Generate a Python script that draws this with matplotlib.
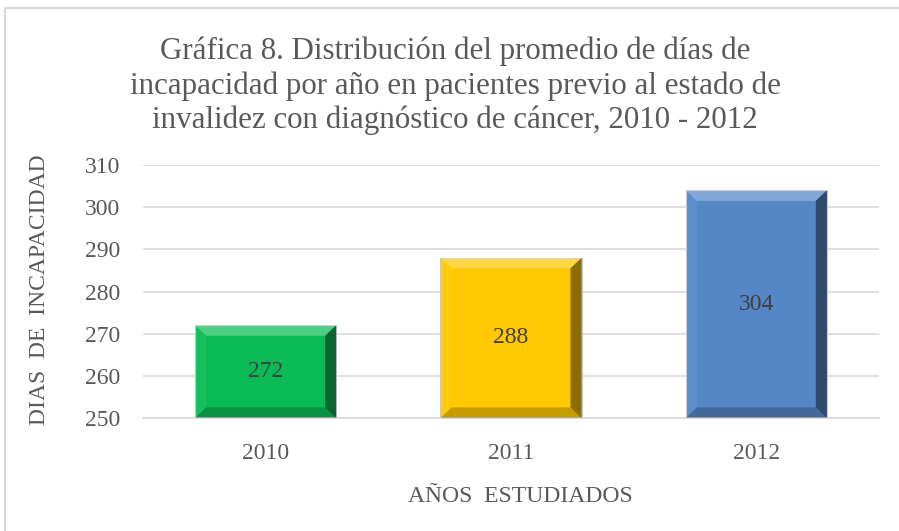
import matplotlib
matplotlib.use("Agg")
import matplotlib.pyplot as plt
from matplotlib.patches import Polygon, Rectangle

# data
years = ["2010", "2011", "2012"]
dias = [272, 288, 304]
colores = ["#0ABA55", "#FFC800", "#5587C6"]

titulo = ("Gráfica 8. Distribución del promedio de días de\n"
          "incapacidad por año en pacientes previo al estado de\n"
          "invalidez con diagnóstico de cáncer, 2010 - 2012")
ylab = "DIAS  DE  INCAPACIDAD"
xlab = "AÑOS  ESTUDIADOS"

plt.rcParams['font.family'] = ['Liberation Serif', 'DejaVu Serif']
gris = "#595959"

fig = plt.figure(figsize=(8.99, 5.31), dpi=100)
ax = fig.add_axes([143/899, 1-418/531, (879-143)/899, (418-165)/531])

x = range(len(years))
bars = ax.bar(x, [d - 250 for d in dias], bottom=250, width=0.575,
              color=colores, edgecolor="#C8C8C8", linewidth=0.8, zorder=2)

# bevel look on each bar
dx, dy = 0.045, 2.5
for b in bars:
    x0, y0 = b.get_x(), b.get_y()
    x1, y1 = x0 + b.get_width(), y0 + b.get_height()
    top = [(x0, y1), (x1, y1), (x1 - dx, y1 - dy), (x0 + dx, y1 - dy)]
    right = [(x1, y1), (x1, y0), (x1 - dx, y0 + dy), (x1 - dx, y1 - dy)]
    bot = [(x0, y0), (x1, y0), (x1 - dx, y0 + dy), (x0 + dx, y0 + dy)]
    left = [(x0, y0), (x0, y1), (x0 + dx, y1 - dy), (x0 + dx, y0 + dy)]
    ax.add_patch(Polygon(top, closed=True, fc="white", alpha=0.28, lw=0, zorder=3))
    ax.add_patch(Polygon(right, closed=True, fc="black", alpha=0.45, lw=0, zorder=3))
    ax.add_patch(Polygon(bot, closed=True, fc="black", alpha=0.22, lw=0, zorder=3))
    ax.add_patch(Polygon(left, closed=True, fc="white", alpha=0.06, lw=0, zorder=3))

for i, d in enumerate(dias):
    ax.text(i, (250 + d) / 2, str(d), ha="center", va="center",
            fontsize=17, color="#404040", zorder=4)

ax.set_ylim(250, 310)
ax.set_xlim(-0.5, 2.5)
ax.set_yticks(range(250, 311, 10))
ax.set_xticks(list(x))
ax.set_xticklabels(years)
ax.tick_params(length=0, labelsize=17, labelcolor=gris)
ax.tick_params(axis="y", pad=16.5)
ax.tick_params(axis="x", pad=18)
ax.grid(axis="y", color="#D9D9D9", linewidth=1.2, zorder=0)
for s in ["top", "right", "left"]:
    ax.spines[s].set_visible(False)
ax.spines["bottom"].set_color("#D9D9D9")
ax.spines["bottom"].set_linewidth(1.2)

fig.text(455/899, 1-86/531, titulo, ha="center", va="center",
         fontsize=22.3, color=gris, linespacing=1.22)
fig.text(40/899, 1-290/531, ylab, rotation=90, ha="center", va="center",
         fontsize=17, color=gris)
fig.text(520/899, 1-497/531, xlab, ha="center", va="center",
         fontsize=17, color=gris)

fig.patches.append(Rectangle((5/899, -0.1), 1.1, 1 - 8/531 + 0.1,
                             transform=fig.transFigure, fill=False,
                             ec="#D9D9D9", lw=1.5))

fig.savefig("out.png", dpi=100)
